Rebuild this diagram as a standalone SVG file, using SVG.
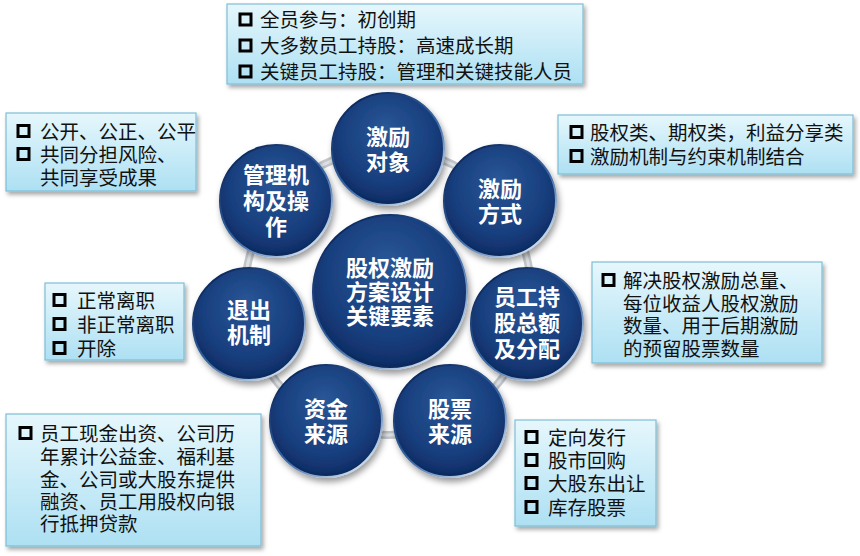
<svg xmlns="http://www.w3.org/2000/svg" width="860" height="556" viewBox="0 0 860 556">
<style>
.ct{font-family:"Noto Sans CJK SC","Noto Sans",sans-serif;font-weight:bold;font-size:22px;fill:#ffffff;text-anchor:middle}
.bt{font-family:"Noto Sans CJK SC","Noto Sans",sans-serif;font-size:19.5px;fill:#111111}
.box{fill:url(#boxg);stroke:#7dbfd6;stroke-width:1.2;filter:url(#bsh)}
.bul{fill:none;stroke:#000000;stroke-width:3}
.circ{fill:url(#cg);stroke:url(#rim);stroke-width:2;filter:url(#csh)}
</style>
<defs>
<radialGradient id="cg" cx="0.5" cy="0.42" r="0.58" fx="0.48" fy="0.3">
<stop offset="0" stop-color="#2a5697"/>
<stop offset="0.7" stop-color="#183f7e"/>
<stop offset="0.93" stop-color="#10306a"/>
<stop offset="1" stop-color="#0b2656"/>
</radialGradient>
<linearGradient id="rim" x1="0.2" y1="0.1" x2="0.85" y2="0.95">
<stop offset="0" stop-color="#0f2c60"/>
<stop offset="0.55" stop-color="#3b6aa8"/>
<stop offset="1" stop-color="#dbe9f7"/>
</linearGradient>
<linearGradient id="boxg" x1="0" y1="0" x2="0" y2="1">
<stop offset="0" stop-color="#e6f7fc"/>
<stop offset="1" stop-color="#ade0f3"/>
</linearGradient>
<filter id="bsh" x="-10%" y="-10%" width="125%" height="135%">
<feDropShadow dx="2" dy="3" stdDeviation="2" flood-color="#000" flood-opacity="0.35"/>
</filter>
<filter id="csh" x="-20%" y="-20%" width="145%" height="150%">
<feDropShadow dx="2" dy="4" stdDeviation="3" flood-color="#000" flood-opacity="0.4"/>
</filter>
</defs>
<rect width="860" height="556" fill="#ffffff"/>

<g id="connectors">
<circle cx="388" cy="292" r="143" fill="none" stroke="#c3c7cc" stroke-width="8"/>
<circle cx="388" cy="292" r="143" fill="none" stroke="#dfe2e5" stroke-width="3"/>
</g>

<g id="center">
<circle class="circ" cx="390" cy="292" r="77"/>
<text class="ct"><tspan x="390" y="276">股权激励</tspan><tspan x="390" y="300">方案设计</tspan><tspan x="390" y="324">关键要素</tspan></text>
</g>

<g id="n-target">
<circle class="circ" cx="388" cy="149" r="56"/>
<text class="ct"><tspan x="388" y="145">激励</tspan><tspan x="388" y="170">对象</tspan></text>
</g>

<g id="n-method">
<circle class="circ" cx="500" cy="201" r="56"/>
<text class="ct"><tspan x="500" y="197">激励</tspan><tspan x="500" y="222">方式</tspan></text>
</g>

<g id="n-amount">
<circle class="circ" cx="527" cy="324" r="56"/>
<text class="ct"><tspan x="527" y="305">员工持</tspan><tspan x="527" y="331">股总额</tspan><tspan x="527" y="357">及分配</tspan></text>
</g>

<g id="n-stock">
<circle class="circ" cx="450" cy="421" r="56"/>
<text class="ct"><tspan x="450" y="417">股票</tspan><tspan x="450" y="442">来源</tspan></text>
</g>

<g id="n-fund">
<circle class="circ" cx="326" cy="421" r="56"/>
<text class="ct"><tspan x="326" y="417">资金</tspan><tspan x="326" y="442">来源</tspan></text>
</g>

<g id="n-exit">
<circle class="circ" cx="249" cy="324" r="56"/>
<text class="ct"><tspan x="249" y="318">退出</tspan><tspan x="249" y="343">机制</tspan></text>
</g>

<g id="n-manage">
<circle class="circ" cx="276" cy="201" r="56"/>
<text class="ct"><tspan x="276" y="183">管理机</tspan><tspan x="276" y="209">构及操</tspan><tspan x="276" y="235">作</tspan></text>
</g>

<g id="box-target">
<rect class="box" x="227" y="4" width="356" height="80"/>
<rect class="bul" x="240" y="14" width="11" height="11"/>
<rect class="bul" x="240" y="40" width="11" height="11"/>
<rect class="bul" x="240" y="66" width="11" height="11"/>
<text class="bt"><tspan x="260" y="27">全员参与：初创期</tspan><tspan x="260" y="53">大多数员工持股：高速成长期</tspan><tspan x="260" y="79">关键员工持股：管理和关键技能人员</tspan></text>
</g>

<g id="box-manage">
<rect class="box" x="6" y="113" width="190" height="78"/>
<rect class="bul" x="18" y="125.5" width="11" height="11"/>
<rect class="bul" x="18" y="148.5" width="11" height="11"/>
<text class="bt"><tspan x="40" y="138.5">公开、公正、公平</tspan><tspan x="40" y="161.5">共同分担风险、</tspan><tspan x="40" y="185">共同享受成果</tspan></text>
</g>

<g id="box-method">
<rect class="box" x="558" y="115" width="295" height="59"/>
<rect class="bul" x="571" y="126.5" width="11" height="11"/>
<rect class="bul" x="571" y="150.5" width="11" height="11"/>
<text class="bt"><tspan x="590" y="139.5">股权类、期权类，利益分享类</tspan><tspan x="590" y="163.5">激励机制与约束机制结合</tspan></text>
</g>

<g id="box-amount">
<rect class="box" x="592" y="262" width="230" height="101"/>
<rect class="bul" x="603" y="274.5" width="11" height="11"/>
<text class="bt"><tspan x="623" y="287.5">解决股权激励总量、</tspan><tspan x="623" y="310.5">每位收益人股权激励</tspan><tspan x="623" y="332.5">数量、用于后期激励</tspan><tspan x="623" y="355.5">的预留股票数量</tspan></text>
</g>

<g id="box-exit">
<rect class="box" x="45" y="283" width="139" height="77"/>
<rect class="bul" x="54" y="294.5" width="11" height="11"/>
<rect class="bul" x="54" y="318.5" width="11" height="11"/>
<rect class="bul" x="54" y="342.5" width="11" height="11"/>
<text class="bt"><tspan x="77" y="307.5">正常离职</tspan><tspan x="77" y="331.5">非正常离职</tspan><tspan x="77" y="355.5">开除</tspan></text>
</g>

<g id="box-fund">
<rect class="box" x="6" y="414" width="255" height="132"/>
<rect class="bul" x="20" y="427.5" width="11" height="11"/>
<text class="bt"><tspan x="40" y="440.5">员工现金出资、公司历</tspan><tspan x="40" y="463.5">年累计公益金、福利基</tspan><tspan x="40" y="486.5">金、公司或大股东提供</tspan><tspan x="40" y="508.5">融资、员工用股权向银</tspan><tspan x="40" y="530.5">行抵押贷款</tspan></text>
</g>

<g id="box-stock">
<rect class="box" x="515" y="420" width="141" height="106"/>
<rect class="bul" x="526" y="431.5" width="11" height="11"/>
<rect class="bul" x="526" y="454.5" width="11" height="11"/>
<rect class="bul" x="526" y="477.5" width="11" height="11"/>
<rect class="bul" x="526" y="501.5" width="11" height="11"/>
<text class="bt"><tspan x="548" y="444.5">定向发行</tspan><tspan x="548" y="467.5">股市回购</tspan><tspan x="548" y="490.5">大股东出让</tspan><tspan x="548" y="514.5">库存股票</tspan></text>
</g>
</svg>
